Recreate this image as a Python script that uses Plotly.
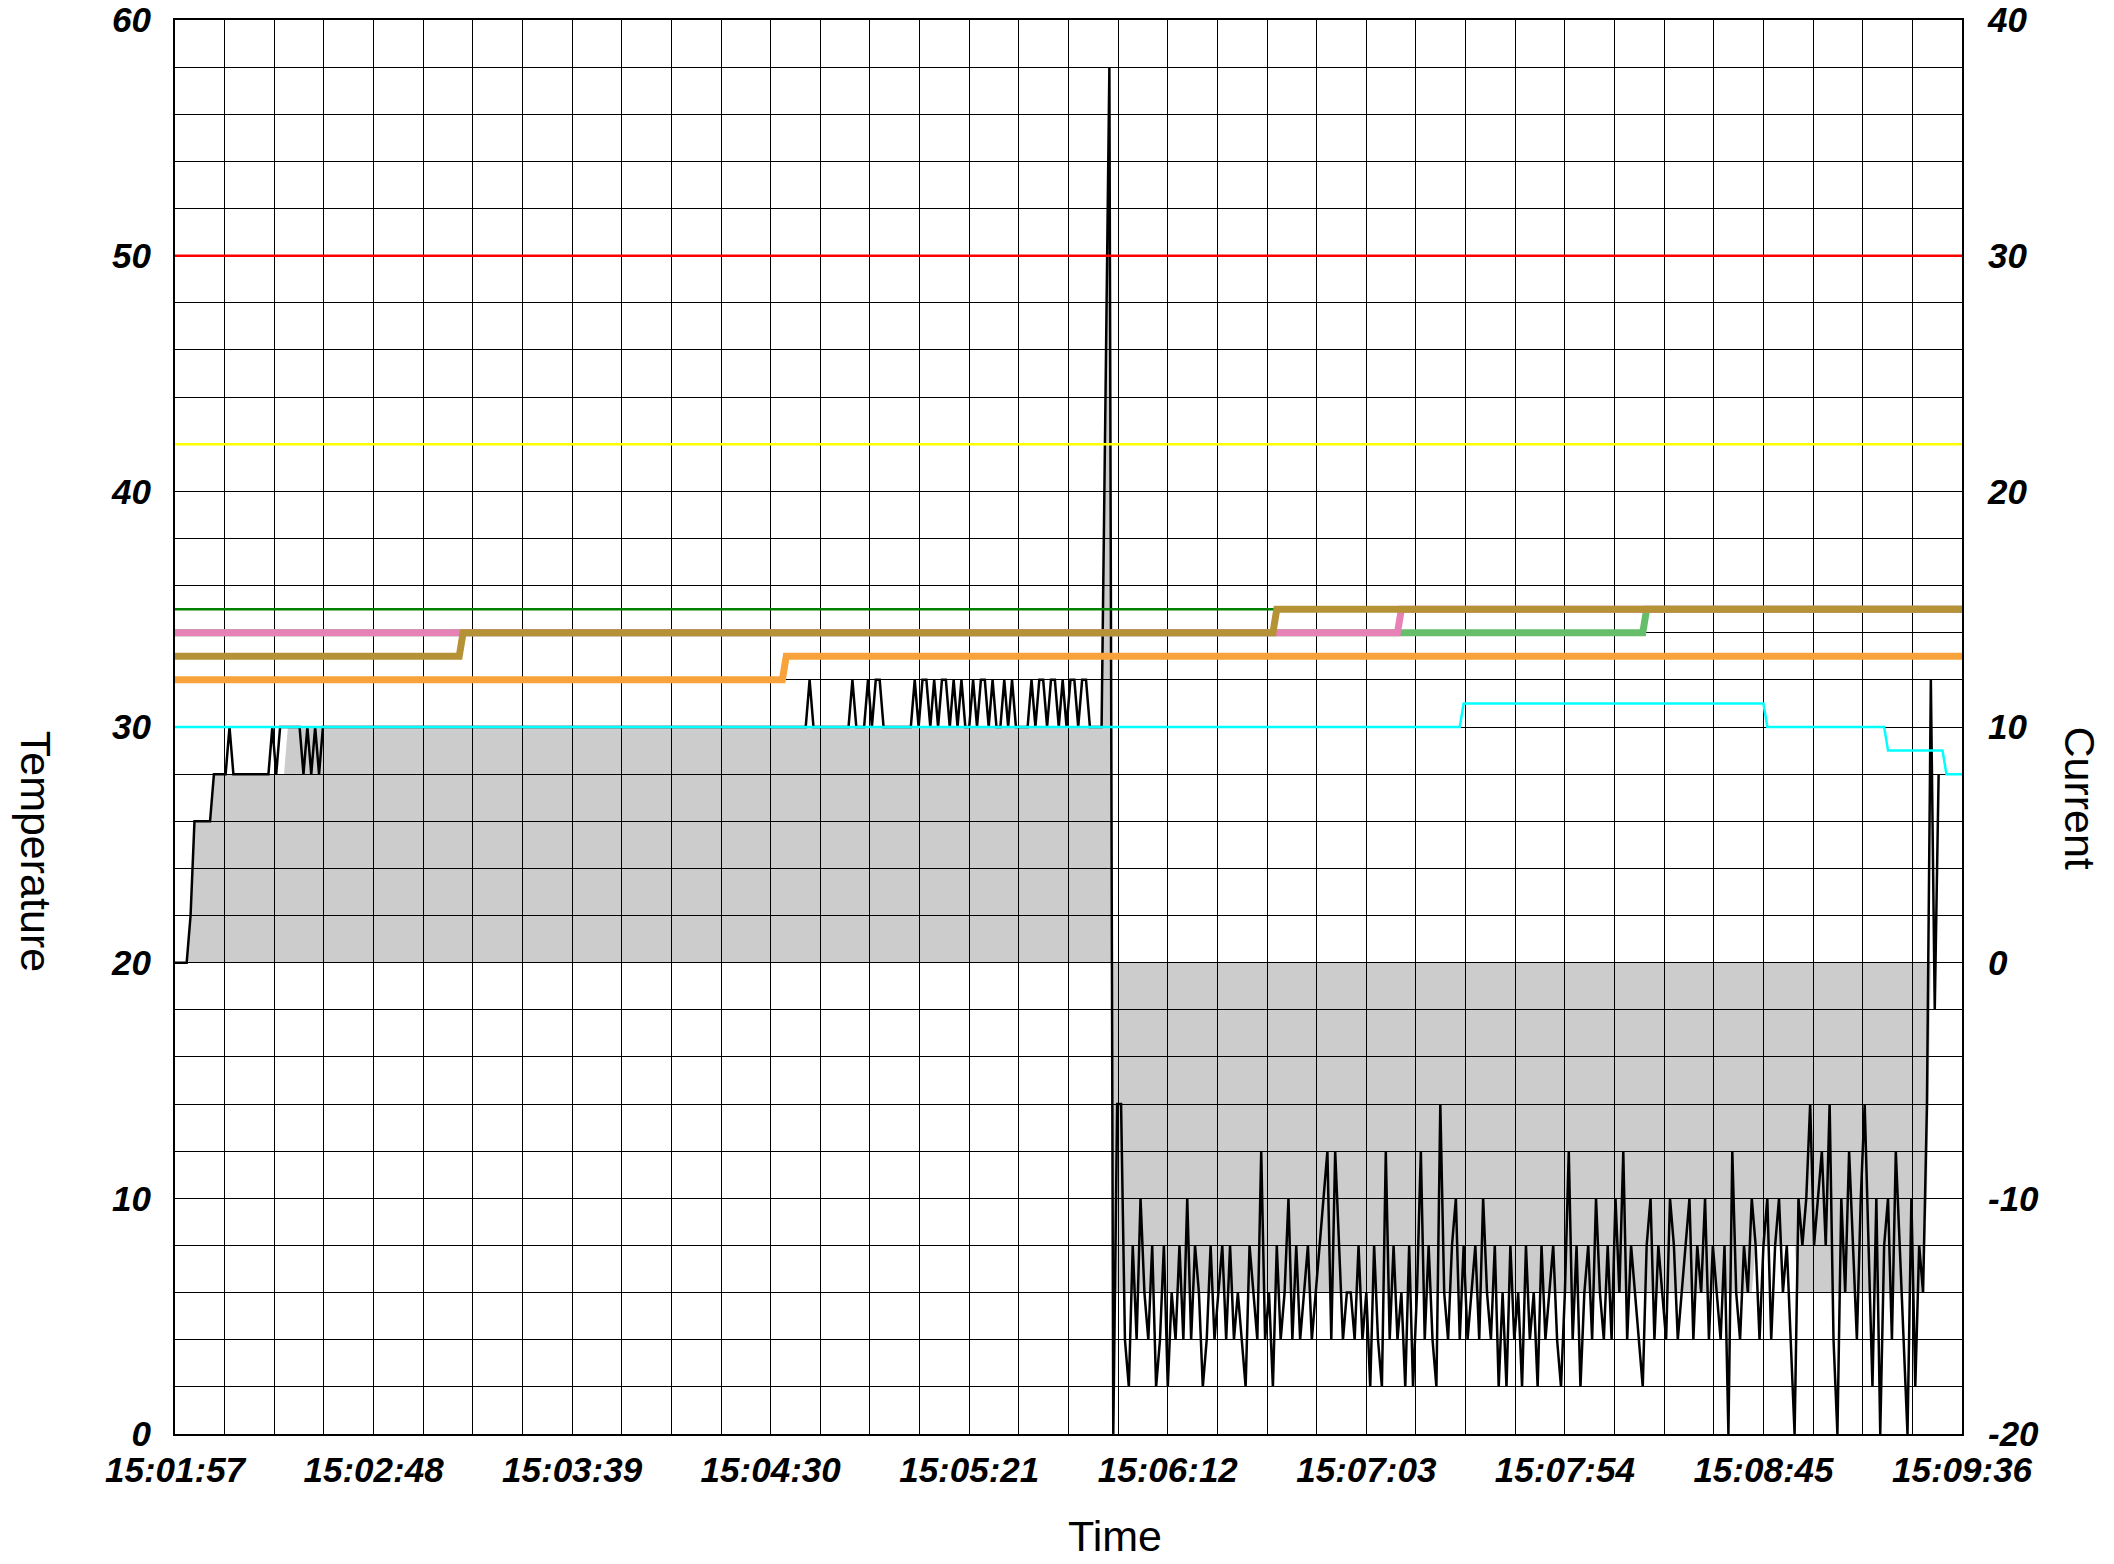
import plotly.graph_objects as go

# ---------------- data ----------------
# time axis: seconds after 15:01:57, one current sample per second
x_tick_labels = ["15:01:57", "15:02:48", "15:03:39", "15:04:30", "15:05:21",
                 "15:06:12", "15:07:03", "15:07:54", "15:08:45", "15:09:36"]
x_label_seconds = [0, 51, 102, 153, 204, 255, 306, 357, 408, 459]
x_grid_seconds = [0, 12.75, 25.5, 38.25, 51, 63.75, 76.5, 89.25, 102, 114.75, 127.5, 140.25,
                  153, 165.75, 178.5, 191.25, 204, 216.75, 229.5, 242.25, 255, 267.75, 280.5,
                  293.25, 306, 318.75, 331.5, 344.25, 357, 369.75, 382.5, 395.25, 408, 420.75,
                  433.5, 446.25, 459]

temp_ticks = [0, 10, 20, 30, 40, 50, 60]
current_ticks = [-20, -10, 0, 10, 20, 30, 40]
current_grid = [-20, -18, -16, -14, -12, -10, -8, -6, -4, -2, 0, 2, 4, 6, 8, 10, 12, 14, 16,
                18, 20, 22, 24, 26, 28, 30, 32, 34, 36, 38, 40]

# Current (right axis), t = 0 .. 453 s
current = [
    0, 0, 0, 0, 2, 6, 6, 6, 6, 6,
    8, 8, 8, 8, 10, 8, 8, 8, 8, 8,
    8, 8, 8, 8, 8, 10, 8, 10, 10, 10,
    10, 10, 10, 8, 10, 8, 10, 8, 10, 10,
    10, 10, 10, 10, 10, 10, 10, 10, 10, 10,
    10, 10, 10, 10, 10, 10, 10, 10, 10, 10,
    10, 10, 10, 10, 10, 10, 10, 10, 10, 10,
    10, 10, 10, 10, 10, 10, 10, 10, 10, 10,
    10, 10, 10, 10, 10, 10, 10, 10, 10, 10,
    10, 10, 10, 10, 10, 10, 10, 10, 10, 10,
    10, 10, 10, 10, 10, 10, 10, 10, 10, 10,
    10, 10, 10, 10, 10, 10, 10, 10, 10, 10,
    10, 10, 10, 10, 10, 10, 10, 10, 10, 10,
    10, 10, 10, 10, 10, 10, 10, 10, 10, 10,
    10, 10, 10, 10, 10, 10, 10, 10, 10, 10,
    10, 10, 10, 10, 10, 10, 10, 10, 10, 10,
    10, 10, 10, 12, 10, 10, 10, 10, 10, 10,
    10, 10, 10, 10, 12, 10, 10, 10, 12, 10,
    12, 12, 10, 10, 10, 10, 10, 10, 10, 10,
    12, 10, 12, 12, 10, 12, 10, 12, 12, 10,
    12, 10, 12, 10, 10, 12, 10, 12, 12, 10,
    12, 10, 10, 12, 10, 12, 10, 10, 10, 10,
    12, 10, 12, 12, 10, 12, 12, 10, 12, 10,
    12, 12, 10, 12, 12, 10, 10, 10, 10, 24,
    38, -20, -6, -6, -16, -18, -12, -16, -10, -14,
    -16, -12, -18, -16, -12, -18, -14, -16, -12, -16,
    -10, -16, -12, -14, -18, -16, -12, -16, -14, -12,
    -16, -12, -16, -14, -16, -18, -12, -14, -16, -8,
    -16, -14, -18, -12, -16, -14, -10, -16, -12, -16,
    -14, -12, -16, -14, -12, -10, -8, -16, -8, -12,
    -16, -14, -14, -16, -12, -16, -14, -18, -12, -16,
    -18, -8, -16, -12, -16, -14, -18, -12, -18, -14,
    -8, -16, -12, -16, -18, -6, -14, -16, -12, -10,
    -16, -12, -16, -14, -12, -16, -10, -14, -16, -12,
    -18, -14, -18, -12, -16, -14, -18, -12, -16, -14,
    -18, -12, -16, -14, -12, -16, -18, -14, -8, -16,
    -12, -18, -14, -12, -16, -10, -14, -16, -12, -16,
    -10, -14, -8, -16, -12, -14, -16, -18, -12, -10,
    -16, -12, -14, -16, -10, -12, -16, -14, -12, -10,
    -16, -12, -14, -10, -16, -12, -14, -16, -12, -20,
    -8, -14, -16, -12, -14, -10, -12, -16, -12, -10,
    -16, -12, -10, -14, -12, -16, -20, -10, -12, -10,
    -6, -12, -10, -8, -12, -6, -16, -20, -10, -14,
    -8, -12, -16, -10, -6, -12, -18, -10, -20, -12,
    -10, -16, -8, -12, -16, -20, -10, -18, -12, -14,
    -6, 12, -2, 8,
]
current_seconds = list(range(len(current)))

# grey area (right axis)
area_seconds = [0, 3, 4, 5, 9, 10, 28, 29, 238, 239, 240, 241, 405, 406, 416, 417, 449, 450, 451]
area_current = [0, 0, 2, 6, 6, 8, 8, 10, 10, 24, 38, -14, -14, -12, -12, -14, -14, -10, 0]

# Temperature sensors (left axis)
full_span = [0, 459]
red_limit = [50, 50]
yellow_limit = [42, 42]
green_limit = [35, 35]

green_seconds = [0, 377, 378, 459]
green_temp = [34, 34, 35, 35]
pink_seconds = [0, 314, 315, 459]
pink_temp = [34, 34, 35, 35]
olive_seconds = [0, 73, 74, 282, 283, 459]
olive_temp = [33, 33, 34, 34, 35, 35]
orange_seconds = [0, 156, 157, 459]
orange_temp = [32, 32, 33, 33]
cyan_seconds = [0, 330, 331, 408, 409, 439, 440, 454, 455, 459]
cyan_temp = [30, 30, 31, 31, 30, 30, 29, 29, 28, 28]

# ---------------- figure ----------------
fig = go.Figure()

fig.add_trace(go.Scatter(x=area_seconds, y=area_current, yaxis="y", mode="lines",
                         fill="tozeroy", fillcolor="rgba(0,0,0,0.2)",
                         line=dict(width=0, color="rgba(0,0,0,0)"), hoverinfo="skip"))
fig.add_trace(go.Scatter(x=current_seconds, y=current, yaxis="y", mode="lines",
                         line=dict(color="black", width=2.5)))

thin = 2.5
thick = 7
fig.add_trace(go.Scatter(x=full_span, y=red_limit, yaxis="y2", mode="lines",
                         line=dict(color="#ff0000", width=thin)))
fig.add_trace(go.Scatter(x=full_span, y=yellow_limit, yaxis="y2", mode="lines",
                         line=dict(color="#ffff00", width=thin)))
fig.add_trace(go.Scatter(x=full_span, y=green_limit, yaxis="y2", mode="lines",
                         line=dict(color="#008000", width=thin)))
fig.add_trace(go.Scatter(x=cyan_seconds, y=cyan_temp, yaxis="y2", mode="lines",
                         line=dict(color="#00ffff", width=thin)))
fig.add_trace(go.Scatter(x=orange_seconds, y=orange_temp, yaxis="y2", mode="lines",
                         line=dict(color="#f7a23b", width=thick)))
fig.add_trace(go.Scatter(x=green_seconds, y=green_temp, yaxis="y2", mode="lines",
                         line=dict(color="#66bd6a", width=thick)))
fig.add_trace(go.Scatter(x=pink_seconds, y=pink_temp, yaxis="y2", mode="lines",
                         line=dict(color="#e882b6", width=thick)))
fig.add_trace(go.Scatter(x=olive_seconds, y=olive_temp, yaxis="y2", mode="lines",
                         line=dict(color="#b59236", width=thick)))

tickfont = dict(family="Liberation Sans", size=35, color="black", weight="bold", style="italic")
titlefont = dict(family="Liberation Sans", size=43, color="black")

x_text = []
for s in x_grid_seconds:
    x_text.append(x_tick_labels[x_label_seconds.index(s)] if s in x_label_seconds else "")
cur_text = [str(v) if v in current_ticks else "" for v in current_grid]

fig.update_layout(
    width=2114, height=1564,
    margin=dict(l=175, r=152, t=20, b=130),
    paper_bgcolor="white", plot_bgcolor="white",
    showlegend=False,
    xaxis=dict(range=[0, 459], tickmode="array", tickvals=x_grid_seconds, ticktext=x_text,
               showgrid=True, gridcolor="black", gridwidth=1, zeroline=False,
               showline=True, linecolor="black", linewidth=2, mirror=True, automargin=False,
               ticks="", tickfont=tickfont, ticklabelstandoff=4),
    yaxis=dict(range=[-20, 40], side="right", tickmode="array", tickvals=current_grid,
               ticktext=cur_text, showgrid=True, gridcolor="black", gridwidth=1,
               zeroline=False, showline=True, linecolor="black", linewidth=2, mirror=True,
               automargin=False, ticks="", tickfont=tickfont, ticklabelstandoff=17),
    yaxis2=dict(range=[0, 60], overlaying="y", side="left", tickmode="array",
                tickvals=temp_ticks, showgrid=False, zeroline=False, showline=False,
                automargin=False, ticks="", tickfont=tickfont, ticklabelstandoff=23),
    annotations=[
        dict(text="Temperature", xref="paper", yref="paper", x=-0.078, y=0.4987,
             xanchor="center", yanchor="top", textangle=90, showarrow=False, font=titlefont),
        dict(text="Current", xref="paper", yref="paper", x=1.066, y=0.5015,
             xanchor="center", yanchor="top", textangle=90, showarrow=False, font=titlefont),
        dict(text="Time", xref="paper", yref="paper", x=0.4985, y=-0.0905,
             xanchor="left", yanchor="bottom", showarrow=False, font=titlefont),
    ],
)

fig.write_html("out.html", config={"displayModeBar": False},
               post_script="document.body.style.margin='0px';")
